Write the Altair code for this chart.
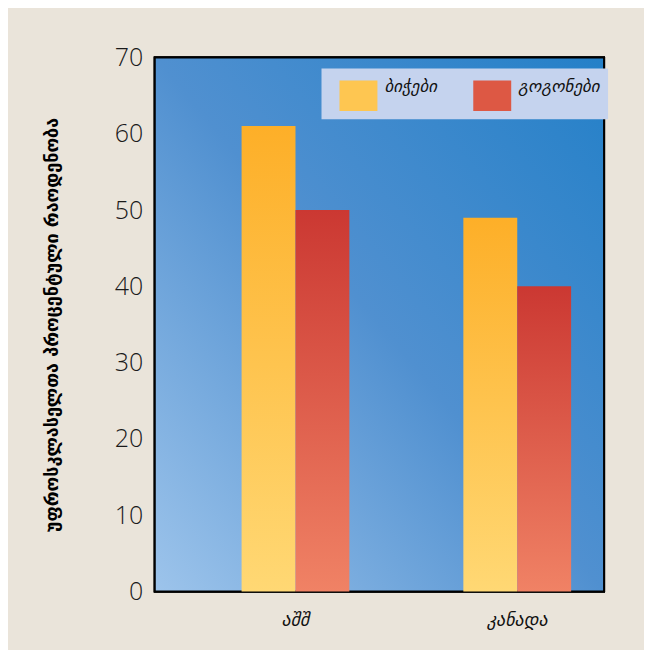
import altair as alt
import pandas as pd

countries = ["აშშ", "კანადა"]
series = ["ბიჭები", "გოგონები"]
boys = [61, 49]
girls = [50, 40]
y_ticks = [0, 10, 20, 30, 40, 50, 60, 70]
y_title = "უფროსკლასელთა  პროცენტული  რაოდენობა"

rows = []
for i, c in enumerate(countries):
    rows.append({"country": c, "series": series[0], "value": boys[i]})
    rows.append({"country": c, "series": series[1], "value": girls[i]})
df = pd.DataFrame(rows)

W, H = 450, 535

G_BG = alt.LinearGradient(gradient="linear", x1=0, y1=1, x2=1, y2=0, stops=[
    alt.GradientStop(offset=0, color="#9DC4EB"),
    alt.GradientStop(offset=0.5, color="#5090D0"),
    alt.GradientStop(offset=1, color="#2480C8"),
])
G_BOYS = {"gradient": "linear", "x1": 0, "y1": 0, "x2": 0, "y2": 1,
          "stops": [{"offset": 0, "color": "#FDAF28"}, {"offset": 1, "color": "#FFD874"}]}
G_GIRLS = {"gradient": "linear", "x1": 0, "y1": 0, "x2": 0, "y2": 1,
           "stops": [{"offset": 0, "color": "#CB3832"}, {"offset": 1, "color": "#F08265"}]}

FONT = "DejaVu Sans"

x_enc = alt.X("country:N", sort=countries, title=None,
              scale=alt.Scale(paddingInner=0.514, paddingOuter=0.27, align=0.725),
              axis=alt.Axis(ticks=False, domain=False, labelAngle=0, labelFontSize=18,
                            labelPadding=20, labelColor="#111", labelFont=FONT,
                            labelFontStyle="italic"))
y_enc = alt.Y("value:Q", scale=alt.Scale(domain=[0, 70], nice=False),
              axis=alt.Axis(values=y_ticks, title=y_title, grid=False, ticks=False, domain=False,
                            labelFontSize=25, labelPadding=12, labelColor="#1a1a1a",
                            labelFont="Open Sans", labelFontWeight=300,
                            titleFont=FONT, titleFontSize=18, titleFontWeight="bold",
                            titleColor="#000", titleAngle=-90, titleX=-102, titleY=H / 2,
                            titleAlign="center", titleBaseline="middle"))
xo = alt.XOffset("series:N", scale=alt.Scale(domain=series, paddingInner=0, paddingOuter=0))

base = alt.Chart(df)

bg = base.mark_rect(color=G_BG, stroke="black", strokeWidth=2).encode(
    x=alt.value(0), x2=alt.value(W), y=alt.value(0), y2=alt.value(H))

bars = base.mark_bar().encode(
    x=x_enc, xOffset=xo, y=y_enc,
    fill=alt.condition(f"datum.series === '{series[0]}'", alt.value(G_BOYS), alt.value(G_GIRLS)),
)

legend_layer = base.mark_rect().encode(
    x=alt.value(0), x2=alt.value(0), y=alt.value(0), y2=alt.value(0),
    color=alt.Color("series:N", scale=alt.Scale(domain=series, range=["#FEC651", "#DD5844"]),
                    legend=alt.Legend(
                        title=None, orient="none", legendX=167, legendY=11,
                        direction="horizontal", columns=2, fillColor="#C5D3EE",
                        padding=8, symbolOffset=10, columnPadding=26,
                        symbolType="M-1,-0.8H1V0.8H-1Z", symbolSize=1444,
                        symbolStrokeWidth=0, symbolOpacity=1, labelFontSize=17, labelFont=FONT,
                        labelFontStyle="italic", labelBaseline="bottom",
                        labelColor="#111", labelOffset=7, labelLimit=200,
                    )),
)

chart = alt.layer(bg, bars, legend_layer).properties(
    width=W, height=H,
    background="#EAE4DA",
    padding={"left": 147, "top": 49, "right": 40, "bottom": 58},
    autosize=alt.AutoSizeParams(type="none"),
).configure_view(stroke=None)

chart.save("out.html", embed_options={"renderer": "svg", "actions": False})
